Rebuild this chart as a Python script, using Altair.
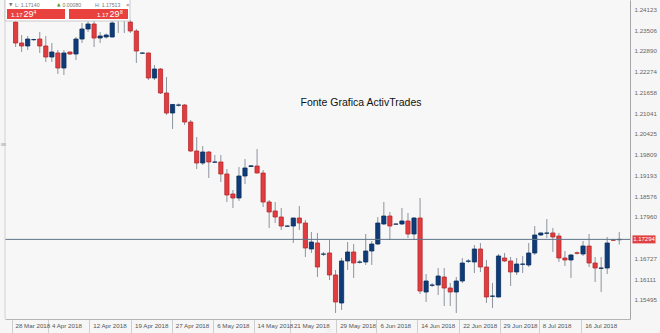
import altair as alt
import pandas as pd

# ---- data (EUR/USD daily candles) ----
OPEN = [1.23746, 1.23123, 1.23034, 1.23220, 1.23241, 1.23034, 1.22707, 1.22826, 1.22381, 1.22856,
        1.22796, 1.23241, 1.23538, 1.23687, 1.23271, 1.23301, 1.23301, 1.23894, 1.24102, 1.23746,
        1.23479, 1.22820, 1.22826, 1.22084, 1.22351, 1.21639, 1.21045, 1.21277, 1.21283, 1.20778,
        1.19917, 1.19561, 1.19888, 1.19585, 1.19591, 1.19235, 1.18641, 1.18522, 1.19175, 1.19457,
        1.19472, 1.19264, 1.18404, 1.18137, 1.17958, 1.17685, 1.17691, 1.17929, 1.17780, 1.17009,
        1.17187, 1.16854, 1.16890, 1.16237, 1.15406, 1.16653, 1.16920, 1.16614, 1.16623, 1.16949,
        1.17157, 1.17751, 1.17988, 1.17745, 1.17751, 1.17840, 1.17454, 1.17929, 1.15732, 1.15931,
        1.15940, 1.16178, 1.15851, 1.15732, 1.16059, 1.16644, 1.16623, 1.17009, 1.16474, 1.15605,
        1.15584, 1.16742, 1.16653, 1.16326, 1.16554, 1.16534, 1.16890, 1.17424, 1.17475, 1.17484,
        1.17394, 1.16742, 1.16682, 1.16896, 1.16860, 1.17098, 1.16593, 1.16436, 1.16445, 1.17282,
        1.17284]
HIGH = [1.24043, 1.23360, 1.23331, 1.23250, 1.23449, 1.23331, 1.23123, 1.22915, 1.22915, 1.22870,
        1.23301, 1.23716, 1.23805, 1.23805, 1.23449, 1.23405, 1.23865, 1.24280, 1.24221, 1.23805,
        1.23538, 1.22841, 1.22841, 1.22470, 1.22381, 1.22114, 1.21312, 1.21327, 1.21312, 1.20837,
        1.20333, 1.20066, 1.19917, 1.19799, 1.19799, 1.19383, 1.18760, 1.19442, 1.19680, 1.19502,
        1.19977, 1.19353, 1.18463, 1.18404, 1.18226, 1.17706, 1.17935, 1.18285, 1.17869, 1.17513,
        1.17484, 1.16920, 1.17276, 1.16385, 1.16742, 1.17216, 1.17157, 1.16682, 1.17454, 1.17246,
        1.17958, 1.18404, 1.18107, 1.17766, 1.18226, 1.18077, 1.17958, 1.18522, 1.16267, 1.16000,
        1.16445, 1.16445, 1.16000, 1.16178, 1.16742, 1.16712, 1.17127, 1.17187, 1.16682, 1.16000,
        1.16860, 1.16890, 1.16771, 1.16742, 1.16801, 1.17187, 1.17691, 1.17499, 1.17899, 1.17632,
        1.17484, 1.16949, 1.16860, 1.16935, 1.17246, 1.17454, 1.16771, 1.16771, 1.17365, 1.17306,
        1.17513]
LOW = [1.23004, 1.22856, 1.22915, 1.23190, 1.22826, 1.22559, 1.22559, 1.22203, 1.22173, 1.22767,
       1.22618, 1.23123, 1.23449, 1.23004, 1.23123, 1.23256, 1.23286, 1.23420, 1.23420, 1.23420,
       1.22529, 1.22796, 1.22025, 1.22025, 1.21609, 1.20986, 1.20570, 1.21238, 1.20689, 1.19888,
       1.19383, 1.19502, 1.19116, 1.19561, 1.18997, 1.18404, 1.18226, 1.18433, 1.18938, 1.19442,
       1.19250, 1.18255, 1.17632, 1.17780, 1.17573, 1.17676, 1.17187, 1.17573, 1.16771, 1.16890,
       1.16178, 1.16801, 1.16089, 1.15109, 1.15198, 1.16385, 1.16148, 1.16578, 1.16534, 1.16534,
       1.17127, 1.17721, 1.17276, 1.17736, 1.17721, 1.17335, 1.17276, 1.15673, 1.15436, 1.15881,
       1.15643, 1.15317, 1.15317, 1.15109, 1.16000, 1.16593, 1.16296, 1.16326, 1.15406, 1.15258,
       1.15575, 1.16623, 1.15911, 1.16237, 1.16296, 1.16474, 1.16831, 1.17394, 1.17335, 1.16920,
       1.16623, 1.16504, 1.16148, 1.16845, 1.16801, 1.16474, 1.16029, 1.15732, 1.16267, 1.17246,
       1.17140]
CLOSE = [1.23123, 1.23034, 1.23241, 1.23226, 1.23034, 1.22707, 1.22856, 1.22381, 1.22826, 1.22796,
         1.23241, 1.23538, 1.23687, 1.23271, 1.23331, 1.23360, 1.23716, 1.24162, 1.23924, 1.23479,
         1.22885, 1.22826, 1.22084, 1.22351, 1.21639, 1.21045, 1.21298, 1.21283, 1.20778, 1.19917,
         1.19561, 1.19888, 1.19591, 1.19591, 1.19235, 1.18611, 1.18522, 1.19175, 1.19413, 1.19478,
         1.19264, 1.18404, 1.18107, 1.17958, 1.17691, 1.17691, 1.17929, 1.17780, 1.17038, 1.17216,
         1.16474, 1.16860, 1.16237, 1.15436, 1.16653, 1.16920, 1.16593, 1.16623, 1.16949, 1.17157,
         1.17780, 1.17988, 1.17691, 1.17751, 1.17840, 1.17454, 1.17929, 1.15762, 1.16059, 1.15940,
         1.16207, 1.15851, 1.15732, 1.16059, 1.16593, 1.16653, 1.17009, 1.16474, 1.15584, 1.15614,
         1.16801, 1.16653, 1.16326, 1.16563, 1.16563, 1.16890, 1.17424, 1.17484, 1.17484, 1.17365,
         1.16742, 1.16682, 1.16831, 1.16881, 1.17098, 1.16593, 1.16445, 1.16445, 1.17187, 1.17267,
         1.17294]

TICK_POS = [-0.68, 5.35, 12.19, 19.12, 25.88, 32.73, 39.41, 45.44, 53.1, 59.77, 66.52, 73.48,
            80.16, 86.68, 93.69]
TICK_LABELS = ["28 Mar 2018", "4 Apr 2018", "12 Apr 2018", "19 Apr 2018", "27 Apr 2018",
               "6 May 2018", "14 May 2018", "21 May 2018", "29 May 2018", "6 Jun 2018",
               "14 Jun 2018", "22 Jun 2018", "29 Jun 2018", "8 Jul 2018", "16 Jul 2018"]
Y_TICKS = [1.24123, 1.23506, 1.22890, 1.22274, 1.21658, 1.21041, 1.20425, 1.19809, 1.19193,
           1.18576, 1.17960, 1.16727, 1.16111, 1.15495]
LAST_PRICE = 1.17294
LOW_TODAY = "1.17140"
HIGH_TODAY = "1.17513"
CHANGE = "0.00080"
WATERMARK = "Fonte Grafica ActivTrades"

df = pd.DataFrame({"i": list(range(len(OPEN))), "open": OPEN, "high": HIGH,
                   "low": LOW, "close": CLOSE})

W, H = 625, 319
FONT = "Liberation Sans"

label_expr = ("[" + ",".join("'" + s + "'" for s in TICK_LABELS) + "][indexof(["
              + ",".join(repr(v) for v in TICK_POS) + "], datum.value)]")

xs = alt.Scale(domain=[-0.93, 100.95], nice=False, zero=False)
ys = alt.Scale(domain=[1.14931, 1.24399], nice=False, zero=False)

x_axis = alt.Axis(orient="bottom", values=TICK_POS, labelExpr=label_expr, labelAlign="left",
                  labelOffset=3.5, labelBaseline="middle", tickSize=14, tickColor="#cfcfcf",
                  labelPadding=-8, domainColor="#b5b5b5", labelFontSize=6.2, labelColor="#555555",
                  labelFont=FONT, grid=False, title=None, labelOverlap=False, labelFlush=False,
                  labelBound=False)
y_axis = alt.Axis(orient="right", values=Y_TICKS, format=".5f", ticks=False, labelPadding=4,
                  labelFontSize=6.2, labelColor="#666666", labelFont=FONT, domainColor="#a5a5a5",
                  grid=False, title=None, labelBaseline="middle", labelOverlap=False,
                  labelFlush=False, labelBound=False)

base = alt.Chart(df)
wick = base.mark_rule(color="#8d949c", strokeWidth=1).encode(
    x=alt.X("i:Q", scale=xs, axis=x_axis),
    y=alt.Y("low:Q", scale=ys, axis=y_axis),
    y2="high:Q",
)
up_down = "datum.open > datum.close"
body = base.mark_bar(size=4.2, strokeWidth=0.8).encode(
    x=alt.X("i:Q", scale=xs, axis=x_axis),
    y=alt.Y("open:Q", scale=ys, axis=y_axis),
    y2="close:Q",
    fill=alt.condition(up_down, alt.value("#e13d40"), alt.value("#0f3c78")),
    stroke=alt.condition(up_down, alt.value("#b8282b"), alt.value("#0a2f60")),
)

one = alt.Chart(pd.DataFrame({"price": [LAST_PRICE]}))
price_line = one.mark_rule(color="#5f7387", strokeWidth=1).encode(
    y=alt.Y("price:Q", scale=ys, axis=y_axis))
price_box = one.mark_tick(orient="vertical", color="#e0403f", size=8, thickness=23, opacity=1,
                          clip=False).encode(x=alt.value(639),
                                             y=alt.Y("price:Q", scale=ys, axis=y_axis))
price_txt = one.mark_text(color="white", fontSize=6, font=FONT, baseline="middle",
                          align="center", clip=False).encode(
    x=alt.value(639), y=alt.Y("price:Q", scale=ys, axis=y_axis),
    text=alt.Text("price:Q", format=".5f"))

dummy = alt.Chart(pd.DataFrame({"a": [0]}))
watermark = dummy.mark_text(text=WATERMARK, fontSize=10.5, font=FONT, color="#111111",
                            align="center", baseline="middle").encode(
    x=alt.value(356), y=alt.value(103))

left_border = dummy.mark_rule(color="#d2d2d2", strokeWidth=1).encode(
    x=alt.value(0), y=alt.value(0), y2=alt.value(H))

# quote widget (top-left)
panel = dummy.mark_rect(fill="white", stroke="#c9c9c9", strokeWidth=1).encode(
    x=alt.value(0), x2=alt.value(125), y=alt.value(-1), y2=alt.value(21))
btn1 = dummy.mark_rect(fill="#e8413e").encode(
    x=alt.value(2), x2=alt.value(60), y=alt.value(9), y2=alt.value(19))
btn2 = dummy.mark_rect(fill="#e8413e").encode(
    x=alt.value(64), x2=alt.value(123), y=alt.value(9), y2=alt.value(19))

def txt(s, x, y, size, color, align="left", font=FONT, weight="normal"):
    return dummy.mark_text(text=s, fontSize=size, font=font, color=color, align=align,
                           baseline="middle", fontWeight=weight, clip=False).encode(
        x=alt.value(x), y=alt.value(y))

widget_txt = [
    txt("\u25bc", 4, 4.5, 4.5, "#777777", font="DejaVu Sans"),
    txt("L: " + LOW_TODAY, 10, 4.5, 5.2, "#777777"),
    txt("\u25b2", 52, 4.5, 4.5, "#4f9a3c", font="DejaVu Sans"),
    txt(CHANGE, 57.5, 4.5, 5.2, "#777777"),
    txt("H: " + HIGH_TODAY, 90, 4.5, 5.2, "#777777"),
    txt("\u00d7", 121, 4.5, 6, "#777777"),
    txt("1.17", 6, 15, 6, "white"),
    txt("29", 18.5, 14.2, 9, "white"),
    txt("4", 28.5, 11.5, 5, "white"),
    txt("1.17", 92, 15, 6, "white"),
    txt("29", 104.5, 14.2, 9, "white"),
    txt("8", 115, 11.5, 5, "white"),
    txt("\u2261", -5, 145, 8, "#b0b0b0", font="DejaVu Sans"),
    txt("\u2237\u2237", 321, 330, 5, "#b8b8b8", font="DejaVu Sans"),
]

chart = alt.layer(wick, body, price_line, left_border, watermark, panel, btn1, btn2, *widget_txt,
                  price_box, price_txt).properties(
    width=W, height=H,
    autosize=alt.AutoSizeParams(type="none"),
    padding={"left": 5, "top": 0, "right": 30, "bottom": 14},
    background="#f6f6f6",
).configure_view(strokeWidth=0, fill="#f7f7f7")

chart.save("out.html", embed_options={"renderer": "svg", "actions": False})
